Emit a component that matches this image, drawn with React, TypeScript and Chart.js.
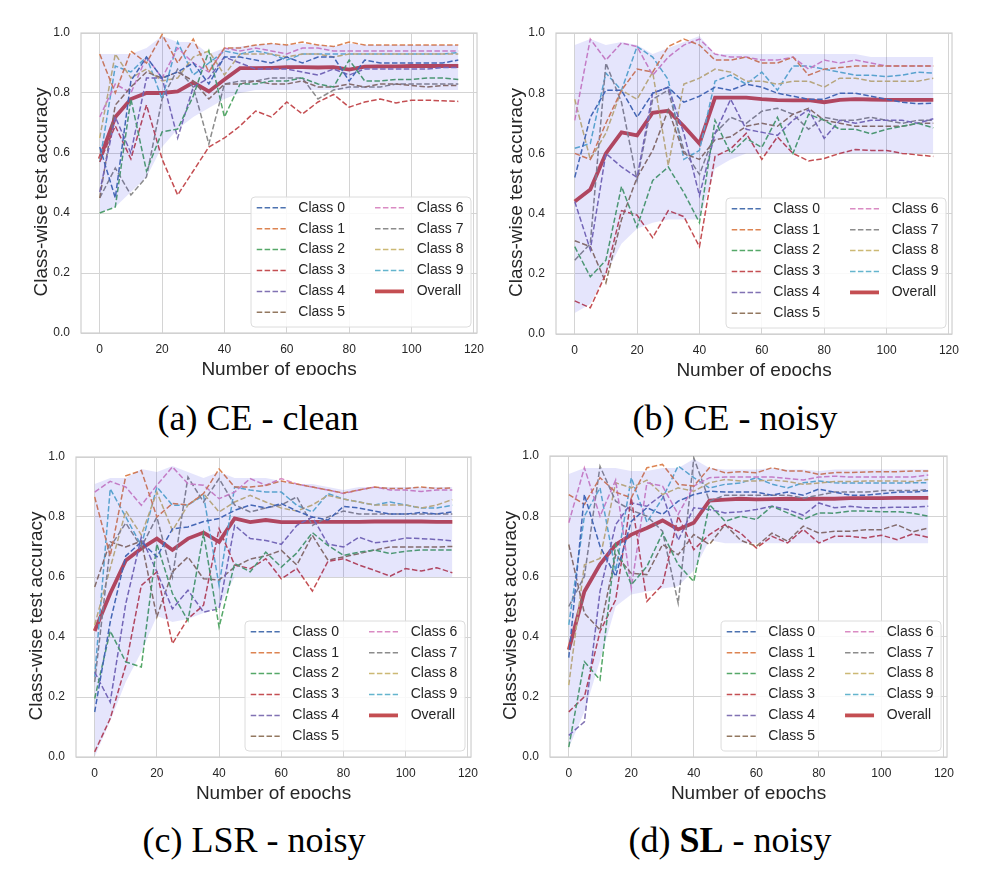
import React, { useEffect, useRef } from 'react';
import { Chart, registerables } from 'chart.js';

Chart.register(...registerables);

const EPOCHS = [0, 5, 10, 15, 20, 25, 30, 35, 40, 45, 50, 55, 60, 65, 70, 75, 80, 85, 90, 95, 100, 105, 110, 115];
const X_TICKS = [0, 20, 40, 60, 80, 100, 120];
const Y_TICKS = [0, 0.2, 0.4, 0.6, 0.8, 1.0];
const CLASS_NAMES = ['Class 0', 'Class 1', 'Class 2', 'Class 3', 'Class 4', 'Class 5', 'Class 6', 'Class 7', 'Class 8', 'Class 9'];
const OVERALL_NAME = 'Overall';
const X_TITLE = 'Number of epochs';
const Y_TITLE = 'Class-wise test accuracy';

const CLASS_COLORS = ['#4C72B0', '#DD8452', '#55A868', '#C44E52', '#8172B3', '#937860', '#DA8BC3', '#8C8C8C', '#CCB974', '#64B5CD'];
const OVERALL_COLOR = '#C44E52';
const BAND_COLOR = 'rgba(0, 0, 225, 0.1)';
const GRID_COLOR = '#d4d4d4';
const TEXT_COLOR = '#262626';
const SANS = '"Liberation Sans", Arial, sans-serif';

// ---------- (a) CE - clean ----------
const A_OVERALL = [0.58, 0.72, 0.78, 0.80, 0.80, 0.805, 0.835, 0.805, 0.845, 0.883, 0.883, 0.884, 0.886, 0.886, 0.885, 0.886, 0.878, 0.888, 0.889, 0.889, 0.89, 0.89, 0.89, 0.89];
const A_C0 = [0.62, 0.45, 0.84, 0.92, 0.85, 0.87, 0.9, 0.83, 0.92, 0.92, 0.91, 0.9, 0.92, 0.9, 0.92, 0.92, 0.84, 0.91, 0.9, 0.9, 0.9, 0.9, 0.9, 0.91];
const A_C1 = [0.93, 0.8, 0.94, 0.9, 0.995, 0.9, 0.98, 0.87, 0.95, 0.95, 0.96, 0.965, 0.96, 0.97, 0.96, 0.955, 0.97, 0.96, 0.96, 0.96, 0.96, 0.96, 0.96, 0.96];
const A_C2 = [0.40, 0.42, 0.78, 0.54, 0.67, 0.68, 0.79, 0.94, 0.72, 0.83, 0.83, 0.84, 0.84, 0.85, 0.83, 0.82, 0.91, 0.84, 0.84, 0.845, 0.845, 0.85, 0.85, 0.845];
const A_C3 = [0.57, 0.69, 0.58, 0.76, 0.58, 0.46, 0.54, 0.62, 0.65, 0.69, 0.74, 0.72, 0.77, 0.73, 0.77, 0.795, 0.753, 0.77, 0.78, 0.767, 0.776, 0.776, 0.774, 0.772];
const A_C4 = [0.47, 0.72, 0.6, 0.85, 0.85, 0.65, 0.82, 0.85, 0.92, 0.9, 0.88, 0.88, 0.88, 0.87, 0.86, 0.88, 0.86, 0.88, 0.88, 0.88, 0.88, 0.88, 0.885, 0.885];
const A_C5 = [0.45, 0.76, 0.82, 0.87, 0.85, 0.87, 0.84, 0.78, 0.83, 0.83, 0.84, 0.83, 0.83, 0.84, 0.82, 0.82, 0.83, 0.82, 0.83, 0.83, 0.825, 0.82, 0.825, 0.825];
const A_C6 = [0.72, 0.83, 0.8, 0.92, 0.85, 0.95, 0.9, 0.87, 0.95, 0.94, 0.95, 0.94, 0.93, 0.95, 0.95, 0.94, 0.94, 0.94, 0.94, 0.94, 0.94, 0.94, 0.94, 0.94];
const A_C7 = [0.45, 0.55, 0.46, 0.52, 0.78, 0.88, 0.82, 0.63, 0.83, 0.84, 0.84, 0.85, 0.85, 0.85, 0.78, 0.81, 0.82, 0.82, 0.82, 0.83, 0.83, 0.83, 0.83, 0.83];
const A_C8 = [0.65, 0.93, 0.85, 0.88, 0.84, 0.85, 0.92, 0.94, 0.86, 0.93, 0.93, 0.93, 0.92, 0.93, 0.93, 0.92, 0.93, 0.93, 0.93, 0.93, 0.93, 0.93, 0.93, 0.93];
const A_C9 = [0.57, 0.89, 0.87, 0.92, 0.78, 0.97, 0.86, 0.9, 0.94, 0.93, 0.94, 0.93, 0.91, 0.93, 0.93, 0.93, 0.93, 0.93, 0.93, 0.93, 0.93, 0.93, 0.93, 0.935];
const A_BAND_HI = [0.93, 0.93, 0.93, 0.95, 0.99, 0.97, 0.97, 0.93, 0.95, 0.955, 0.96, 0.965, 0.96, 0.965, 0.96, 0.955, 0.965, 0.96, 0.96, 0.96, 0.96, 0.96, 0.96, 0.96];
const A_BAND_LO = [0.40, 0.42, 0.47, 0.52, 0.62, 0.68, 0.72, 0.75, 0.78, 0.80, 0.81, 0.81, 0.81, 0.81, 0.81, 0.81, 0.81, 0.81, 0.81, 0.81, 0.81, 0.81, 0.81, 0.81];

// ---------- (b) CE - noisy ----------
const B_OVERALL = [0.44, 0.48, 0.6, 0.67, 0.66, 0.735, 0.742, 0.69, 0.633, 0.785, 0.785, 0.785, 0.78, 0.777, 0.776, 0.777, 0.77, 0.778, 0.78, 0.779, 0.778, 0.778, 0.778, 0.778];
const B_C0 = [0.52, 0.72, 0.81, 0.81, 0.72, 0.8, 0.82, 0.77, 0.79, 0.82, 0.81, 0.83, 0.82, 0.8, 0.79, 0.78, 0.78, 0.8, 0.8, 0.79, 0.78, 0.77, 0.765, 0.767];
const B_C1 = [0.6, 0.58, 0.7, 0.81, 0.88, 0.87, 0.955, 0.98, 0.96, 0.91, 0.91, 0.92, 0.9, 0.9, 0.92, 0.86, 0.88, 0.885, 0.89, 0.89, 0.89, 0.89, 0.89, 0.89];
const B_C2 = [0.29, 0.19, 0.245, 0.49, 0.355, 0.51, 0.555, 0.47, 0.37, 0.71, 0.6, 0.65, 0.62, 0.72, 0.6, 0.73, 0.71, 0.68, 0.68, 0.665, 0.68, 0.69, 0.7, 0.685];
const B_C3 = [0.11, 0.087, 0.2, 0.41, 0.395, 0.32, 0.41, 0.39, 0.29, 0.59, 0.615, 0.667, 0.58, 0.655, 0.6, 0.575, 0.583, 0.6, 0.613, 0.61, 0.61, 0.6, 0.595, 0.59];
const B_C4 = [0.44, 0.28, 0.6, 0.555, 0.52, 0.8, 0.82, 0.667, 0.46, 0.667, 0.78, 0.68, 0.67, 0.66, 0.71, 0.745, 0.65, 0.71, 0.7, 0.71, 0.71, 0.71, 0.7, 0.715];
const B_C5 = [0.31, 0.29, 0.17, 0.38, 0.52, 0.61, 0.745, 0.6, 0.58, 0.645, 0.655, 0.69, 0.7, 0.69, 0.73, 0.75, 0.71, 0.7, 0.69, 0.69, 0.69, 0.69, 0.7, 0.7];
const B_C6 = [0.71, 0.98, 0.91, 0.967, 0.955, 0.86, 0.92, 0.96, 0.98, 0.93, 0.92, 0.92, 0.91, 0.91, 0.92, 0.88, 0.91, 0.9, 0.91, 0.9, 0.89, 0.89, 0.89, 0.89];
const B_C7 = [0.245, 0.3, 0.9, 0.77, 0.51, 0.78, 0.81, 0.61, 0.53, 0.667, 0.72, 0.7, 0.74, 0.75, 0.73, 0.68, 0.72, 0.71, 0.71, 0.72, 0.71, 0.7, 0.71, 0.71];
const B_C8 = [0.78, 0.58, 0.667, 0.81, 0.78, 0.87, 0.56, 0.83, 0.85, 0.88, 0.87, 0.84, 0.84, 0.83, 0.84, 0.84, 0.82, 0.85, 0.85, 0.84, 0.84, 0.84, 0.84, 0.85];
const B_C9 = [0.617, 0.633, 0.867, 0.81, 0.955, 0.92, 0.845, 0.58, 0.61, 0.84, 0.86, 0.83, 0.87, 0.81, 0.89, 0.89, 0.88, 0.87, 0.86, 0.86, 0.855, 0.86, 0.87, 0.867];
const B_BAND_HI = [0.96, 0.98, 0.96, 0.97, 0.96, 0.93, 0.95, 0.97, 0.99, 0.93, 0.93, 0.93, 0.93, 0.93, 0.93, 0.93, 0.93, 0.93, 0.93, 0.92, 0.92, 0.92, 0.92, 0.92];
const B_BAND_LO = [0.07, 0.1, 0.2, 0.3, 0.35, 0.37, 0.38, 0.38, 0.38, 0.55, 0.58, 0.6, 0.6, 0.6, 0.6, 0.6, 0.6, 0.6, 0.6, 0.6, 0.6, 0.6, 0.6, 0.6];

// ---------- (c) LSR - noisy ----------
const C_OVERALL = [0.42, 0.545, 0.655, 0.695, 0.728, 0.69, 0.728, 0.748, 0.717, 0.795, 0.783, 0.79, 0.783, 0.783, 0.784, 0.784, 0.784, 0.784, 0.785, 0.785, 0.785, 0.785, 0.784, 0.784];
const C_C0 = [0.15, 0.45, 0.67, 0.717, 0.667, 0.76, 0.767, 0.785, 0.795, 0.822, 0.84, 0.83, 0.845, 0.82, 0.8, 0.79, 0.835, 0.83, 0.82, 0.81, 0.81, 0.815, 0.81, 0.817];
const C_C1 = [0.867, 0.67, 0.937, 0.955, 0.8, 0.845, 0.84, 0.878, 0.96, 0.9, 0.9, 0.905, 0.92, 0.91, 0.9, 0.89, 0.88, 0.89, 0.9, 0.895, 0.895, 0.9, 0.895, 0.897];
const C_C2 = [0.195, 0.42, 0.317, 0.3, 0.71, 0.545, 0.455, 0.745, 0.433, 0.645, 0.617, 0.683, 0.633, 0.68, 0.748, 0.705, 0.672, 0.683, 0.69, 0.678, 0.686, 0.69, 0.69, 0.69];
const C_C3 = [0.017, 0.128, 0.305, 0.572, 0.617, 0.378, 0.461, 0.506, 0.761, 0.64, 0.628, 0.661, 0.594, 0.628, 0.553, 0.652, 0.661, 0.64, 0.622, 0.603, 0.628, 0.62, 0.631, 0.614];
const C_C4 = [0.283, 0.183, 0.511, 0.733, 0.617, 0.494, 0.556, 0.483, 0.494, 0.772, 0.728, 0.722, 0.709, 0.772, 0.8, 0.71, 0.7, 0.733, 0.714, 0.72, 0.73, 0.728, 0.725, 0.72];
const C_C5 = [0.567, 0.717, 0.7, 0.72, 0.467, 0.617, 0.667, 0.594, 0.59, 0.633, 0.66, 0.67, 0.689, 0.64, 0.739, 0.656, 0.667, 0.678, 0.69, 0.7, 0.7, 0.7, 0.7, 0.702];
const C_C6 = [0.883, 0.919, 0.9, 0.839, 0.906, 0.967, 0.911, 0.906, 0.861, 0.883, 0.928, 0.906, 0.928, 0.91, 0.9, 0.89, 0.878, 0.89, 0.9, 0.89, 0.89, 0.885, 0.89, 0.89];
const C_C7 = [0.25, 0.7, 0.78, 0.7, 0.8, 0.6, 0.933, 0.85, 0.928, 0.84, 0.817, 0.83, 0.84, 0.867, 0.772, 0.8, 0.82, 0.81, 0.81, 0.81, 0.81, 0.81, 0.81, 0.81];
const C_C8 = [0.44, 0.63, 0.82, 0.74, 0.883, 0.755, 0.84, 0.878, 0.817, 0.85, 0.872, 0.85, 0.83, 0.82, 0.84, 0.872, 0.86, 0.85, 0.84, 0.84, 0.84, 0.83, 0.84, 0.858];
const C_C9 = [0.267, 0.894, 0.8, 0.705, 0.9, 0.839, 0.84, 0.872, 0.572, 0.9, 0.89, 0.883, 0.883, 0.839, 0.817, 0.878, 0.86, 0.85, 0.84, 0.85, 0.84, 0.83, 0.83, 0.839];
const C_BAND_HI = [0.91, 0.93, 0.93, 0.96, 0.95, 0.97, 0.95, 0.93, 0.95, 0.93, 0.93, 0.93, 0.92, 0.91, 0.91, 0.9, 0.89, 0.9, 0.9, 0.9, 0.9, 0.9, 0.9, 0.9];
const C_BAND_LO = [0.0, 0.12, 0.25, 0.35, 0.47, 0.45, 0.46, 0.48, 0.5, 0.6, 0.6, 0.6, 0.6, 0.6, 0.6, 0.6, 0.6, 0.6, 0.6, 0.6, 0.6, 0.6, 0.6, 0.6];

// ---------- (d) SL - noisy ----------
const D_OVERALL = [0.356, 0.55, 0.64, 0.705, 0.739, 0.761, 0.786, 0.756, 0.778, 0.852, 0.855, 0.858, 0.856, 0.857, 0.858, 0.857, 0.858, 0.858, 0.86, 0.86, 0.86, 0.861, 0.861, 0.861];
const D_C0 = [0.33, 0.872, 0.7, 0.6, 0.783, 0.828, 0.806, 0.85, 0.872, 0.883, 0.88, 0.88, 0.88, 0.87, 0.88, 0.87, 0.89, 0.88, 0.87, 0.87, 0.875, 0.88, 0.88, 0.885];
const D_C1 = [0.872, 0.839, 0.928, 0.88, 0.861, 0.961, 0.972, 0.906, 0.9, 0.961, 0.944, 0.948, 0.944, 0.961, 0.95, 0.95, 0.939, 0.945, 0.945, 0.947, 0.948, 0.948, 0.95, 0.95];
const D_C2 = [0.033, 0.317, 0.256, 0.706, 0.572, 0.633, 0.744, 0.639, 0.583, 0.839, 0.783, 0.8, 0.789, 0.833, 0.811, 0.789, 0.811, 0.81, 0.817, 0.817, 0.815, 0.815, 0.81, 0.8];
const D_C3 = [0.15, 0.2, 0.417, 0.522, 0.861, 0.517, 0.572, 0.8, 0.689, 0.739, 0.772, 0.744, 0.694, 0.733, 0.711, 0.756, 0.711, 0.733, 0.733, 0.728, 0.737, 0.722, 0.741, 0.73];
const D_C4 = [0.072, 0.117, 0.55, 0.772, 0.844, 0.833, 0.872, 0.72, 0.828, 0.822, 0.811, 0.815, 0.822, 0.833, 0.822, 0.803, 0.844, 0.828, 0.833, 0.828, 0.828, 0.83, 0.83, 0.833];
const D_C5 = [0.706, 0.478, 0.422, 0.672, 0.61, 0.606, 0.706, 0.672, 0.739, 0.706, 0.772, 0.72, 0.7, 0.744, 0.717, 0.767, 0.744, 0.75, 0.75, 0.755, 0.755, 0.772, 0.748, 0.761];
const D_C6 = [0.778, 0.961, 0.8, 0.92, 0.561, 0.911, 0.9, 0.806, 0.9, 0.928, 0.93, 0.93, 0.93, 0.93, 0.925, 0.92, 0.93, 0.933, 0.93, 0.93, 0.93, 0.93, 0.93, 0.937];
const D_C7 = [0.5, 0.6, 0.966, 0.85, 0.82, 0.8, 0.75, 0.511, 0.994, 0.85, 0.87, 0.87, 0.87, 0.87, 0.87, 0.86, 0.87, 0.88, 0.88, 0.88, 0.885, 0.885, 0.885, 0.888];
const D_C8 = [0.239, 0.639, 0.66, 0.911, 0.894, 0.92, 0.872, 0.894, 0.883, 0.911, 0.922, 0.917, 0.917, 0.92, 0.915, 0.906, 0.91, 0.915, 0.915, 0.917, 0.917, 0.917, 0.915, 0.922];
const D_C9 = [0.439, 0.8, 0.894, 0.617, 0.928, 0.78, 0.86, 0.967, 0.928, 0.894, 0.906, 0.91, 0.928, 0.906, 0.894, 0.911, 0.917, 0.911, 0.91, 0.91, 0.91, 0.91, 0.911, 0.911];
const D_BAND_HI = [0.94, 0.96, 0.96, 0.96, 0.95, 0.95, 0.96, 0.96, 0.99, 0.96, 0.955, 0.955, 0.955, 0.96, 0.955, 0.955, 0.95, 0.955, 0.955, 0.955, 0.955, 0.955, 0.955, 0.955];
const D_BAND_LO = [0.03, 0.15, 0.32, 0.5, 0.54, 0.55, 0.56, 0.567, 0.62, 0.72, 0.71, 0.71, 0.71, 0.71, 0.71, 0.71, 0.71, 0.71, 0.71, 0.71, 0.71, 0.71, 0.71, 0.71];

type PanelSpec = {
  classes: number[][];
  overall: number[];
  bandHi: number[];
  bandLo: number[];
  caption: React.ReactNode;
  plot: { left: number; top: number; right: number; bottom: number };
  captionX: number;
  captionBaseline: number;
};

const PANELS: PanelSpec[] = [
  {
    classes: [A_C0, A_C1, A_C2, A_C3, A_C4, A_C5, A_C6, A_C7, A_C8, A_C9],
    overall: A_OVERALL, bandHi: A_BAND_HI, bandLo: A_BAND_LO,
    caption: <>(a) CE - clean</>,
    plot: { left: 81, top: 33, right: 483, bottom: 333 },
    captionX: 258, captionBaseline: 430,
  },
  {
    classes: [B_C0, B_C1, B_C2, B_C3, B_C4, B_C5, B_C6, B_C7, B_C8, B_C9],
    overall: B_OVERALL, bandHi: B_BAND_HI, bandLo: B_BAND_LO,
    caption: <>(b) CE - noisy</>,
    plot: { left: 556, top: 33, right: 958, bottom: 334 },
    captionX: 735, captionBaseline: 430,
  },
  {
    classes: [C_C0, C_C1, C_C2, C_C3, C_C4, C_C5, C_C6, C_C7, C_C8, C_C9],
    overall: C_OVERALL, bandHi: C_BAND_HI, bandLo: C_BAND_LO,
    caption: <>(c) LSR - noisy</>,
    plot: { left: 76, top: 457, right: 477, bottom: 757 },
    captionX: 254, captionBaseline: 852,
  },
  {
    classes: [D_C0, D_C1, D_C2, D_C3, D_C4, D_C5, D_C6, D_C7, D_C8, D_C9],
    overall: D_OVERALL, bandHi: D_BAND_HI, bandLo: D_BAND_LO,
    caption: <>(d) <b>SL</b> - noisy</>,
    plot: { left: 550, top: 456, right: 953, bottom: 757 },
    captionX: 730, captionBaseline: 852,
  },
];

// Layout constants around each plot area
const Y_AXIS_W = 81;
const PAD_TOP = 33;
const PAD_RIGHT = 10;
const X_AXIS_H = 48;
const EXTRA_BOTTOM = 60;
const CLIP_BELOW = 42;

const DASH = [5.5, 2.4];

const legendPlugin = {
  id: 'innerLegend',
  afterDatasetsDraw(chart: any) {
    const ca = chart.chartArea;
    const ctx: CanvasRenderingContext2D = chart.ctx;
    const w = 220;
    const h = 130;
    const x0 = ca.right - 6 - w;
    const y0 = ca.bottom - 6 - h;
    ctx.save();
    ctx.beginPath();
    const r = 4;
    ctx.moveTo(x0 + r, y0);
    ctx.lineTo(x0 + w - r, y0);
    ctx.arcTo(x0 + w, y0, x0 + w, y0 + r, r);
    ctx.lineTo(x0 + w, y0 + h - r);
    ctx.arcTo(x0 + w, y0 + h, x0 + w - r, y0 + h, r);
    ctx.lineTo(x0 + r, y0 + h);
    ctx.arcTo(x0, y0 + h, x0, y0 + h - r, r);
    ctx.lineTo(x0, y0 + r);
    ctx.arcTo(x0, y0, x0 + r, y0, r);
    ctx.closePath();
    ctx.fillStyle = 'rgba(255,255,255,0.85)';
    ctx.fill();
    ctx.strokeStyle = '#dcdcdc';
    ctx.lineWidth = 1;
    ctx.stroke();

    const items: { label: string; color: string; overall: boolean }[] = [];
    CLASS_NAMES.forEach((n, i) => items.push({ label: n, color: CLASS_COLORS[i], overall: false }));
    items.push({ label: OVERALL_NAME, color: OVERALL_COLOR, overall: true });

    ctx.font = `14px ${SANS}`;
    ctx.textBaseline = 'middle';
    ctx.textAlign = 'left';
    items.forEach((it, i) => {
      const col = i < 6 ? 0 : 1;
      const row = i < 6 ? i : i - 6;
      const cy = y0 + 10.8 + row * 20.9;
      const hx0 = x0 + (col === 0 ? 5.7 : 124);
      const hx1 = hx0 + 29;
      const tx = x0 + (col === 0 ? 47.3 : 165.7);
      ctx.beginPath();
      ctx.moveTo(hx0, cy);
      ctx.lineTo(hx1, cy);
      ctx.strokeStyle = it.color;
      if (it.overall) {
        ctx.setLineDash([]);
        ctx.lineWidth = 3.8;
      } else {
        ctx.setLineDash(DASH);
        ctx.lineWidth = 1.5;
      }
      ctx.stroke();
      ctx.setLineDash([]);
      ctx.fillStyle = TEXT_COLOR;
      ctx.fillText(it.label, tx, cy);
    });
    ctx.restore();
  },
};

const framePlugin = {
  id: 'frame',
  beforeDatasetsDraw(chart: any) {
    const ca = chart.chartArea;
    const ctx: CanvasRenderingContext2D = chart.ctx;
    ctx.save();
    ctx.strokeStyle = '#cfcfcf';
    ctx.lineWidth = 1.2;
    ctx.strokeRect(ca.left, ca.top, ca.right - ca.left, ca.bottom - ca.top);
    ctx.restore();
  },
};

// y-axis title drawn slightly below the axis centre, as in the reference
const yTitlePlugin = {
  id: 'yTitle',
  afterDraw(chart: any) {
    const ca = chart.chartArea;
    const ctx: CanvasRenderingContext2D = chart.ctx;
    ctx.save();
    ctx.translate(ca.left - 39, (ca.top + ca.bottom) / 2 + 9);
    ctx.rotate(-Math.PI / 2);
    ctx.font = `19px ${SANS}`;
    ctx.fillStyle = TEXT_COLOR;
    ctx.textAlign = 'center';
    ctx.textBaseline = 'middle';
    ctx.fillText(Y_TITLE, 0, 0);
    ctx.restore();
  },
};

function Panel({ spec }: { spec: PanelSpec }) {
  const ref = useRef<HTMLCanvasElement | null>(null);
  const { plot } = spec;
  const plotW = plot.right - plot.left;
  const plotH = plot.bottom - plot.top;
  const cw = Y_AXIS_W + plotW + PAD_RIGHT;
  const ch = PAD_TOP + plotH + X_AXIS_H + EXTRA_BOTTOM;
  const clipH = PAD_TOP + plotH + CLIP_BELOW;

  useEffect(() => {
    if (!ref.current) return;
    const toPts = (arr: number[]) => arr.map((v, i) => ({ x: EPOCHS[i], y: v }));
    const datasets: any[] = [
      {
        label: 'band-hi', data: toPts(spec.bandHi), borderWidth: 0, pointRadius: 0,
        backgroundColor: BAND_COLOR, fill: '+1', borderColor: 'rgba(0,0,0,0)',
      },
      {
        label: 'band-lo', data: toPts(spec.bandLo), borderWidth: 0, pointRadius: 0,
        fill: false, borderColor: 'rgba(0,0,0,0)',
      },
    ];
    spec.classes.forEach((arr, i) => {
      datasets.push({
        label: CLASS_NAMES[i], data: toPts(arr), borderColor: CLASS_COLORS[i],
        borderWidth: 1.5, borderDash: DASH, pointRadius: 0, fill: false, tension: 0,
      });
    });
    datasets.push({
      label: OVERALL_NAME, data: toPts(spec.overall), borderColor: OVERALL_COLOR,
      borderWidth: 3.8, pointRadius: 0, fill: false, tension: 0,
    });

    const chart = new Chart(ref.current, {
      type: 'line',
      data: { datasets },
      plugins: [framePlugin, legendPlugin, yTitlePlugin],
      options: {
        animation: false,
        responsive: false,
        devicePixelRatio: 1,
        layout: { padding: { left: 0, top: PAD_TOP, right: PAD_RIGHT, bottom: EXTRA_BOTTOM } },
        plugins: { legend: { display: false }, tooltip: { enabled: false } },
        scales: {
          x: {
            type: 'linear', min: -6, max: 121,
            afterBuildTicks: (ax: any) => { ax.ticks = X_TICKS.map((v) => ({ value: v })); },
            afterFit: (ax: any) => { ax.height = X_AXIS_H; },
            ticks: { font: { family: SANS, size: 12 }, color: TEXT_COLOR, padding: 9, maxRotation: 0, callback: (v: any) => String(v) },
            grid: { color: GRID_COLOR, drawTicks: false, lineWidth: 1 },
            border: { display: false },
            title: { display: true, text: X_TITLE, font: { family: SANS, size: 19 }, color: TEXT_COLOR, padding: { top: 0, bottom: 0 } },
          },
          y: {
            type: 'linear', min: 0, max: 1,
            afterBuildTicks: (ax: any) => { ax.ticks = Y_TICKS.map((v) => ({ value: v })); },
            afterFit: (ax: any) => { ax.width = Y_AXIS_W; },
            ticks: { font: { family: SANS, size: 12 }, color: TEXT_COLOR, padding: 11, callback: (v: any) => Number(v).toFixed(1) },
            grid: { color: GRID_COLOR, drawTicks: false, lineWidth: 1 },
            border: { display: false },
            title: { display: false },
          },
        },
      } as any,
    });
    return () => chart.destroy();
  }, [spec]);

  return (
    <>
      <div
        style={{
          position: 'absolute',
          left: plot.left - Y_AXIS_W,
          top: plot.top - PAD_TOP,
          width: cw,
          height: clipH,
          overflow: 'hidden',
        }}
      >
        <canvas ref={ref} width={cw} height={ch} style={{ display: 'block', width: cw, height: ch }} />
      </div>
      <div
        style={{
          position: 'absolute',
          left: spec.captionX - 220,
          width: 440,
          top: spec.captionBaseline - 30.2,
          textAlign: 'center',
          fontFamily: '"Liberation Serif", "Times New Roman", serif',
          fontSize: 36,
          lineHeight: '36px',
          color: '#000',
          whiteSpace: 'nowrap',
        }}
      >
        {spec.caption}
      </div>
    </>
  );
}

export default function App() {
  return (
    <div style={{ position: 'absolute', left: 0, top: 0, width: 986, height: 872, background: '#fff', overflow: 'hidden' }}>
      {PANELS.map((p, i) => (
        <Panel key={i} spec={p} />
      ))}
    </div>
  );
}
